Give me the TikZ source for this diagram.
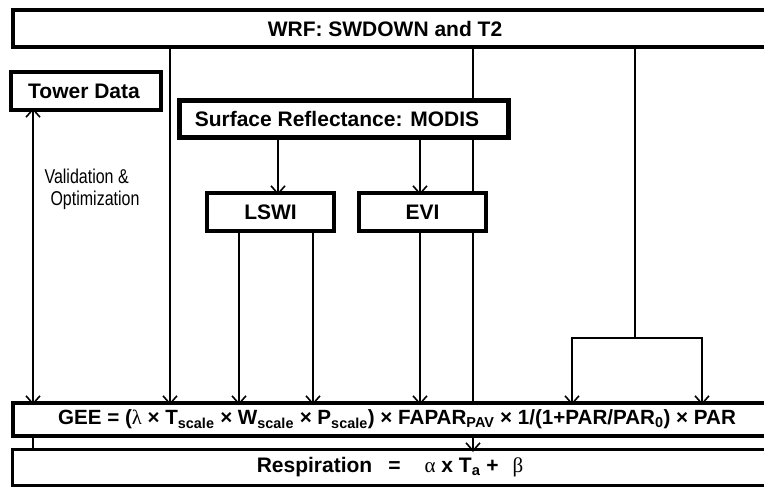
\documentclass[tikz,border=0pt]{standalone}
\usepackage{graphicx}
\usepackage{fontspec}
\setmainfont{Liberation Sans}
\newfontfamily\greekfont{Liberation Serif}
\usetikzlibrary{arrows.meta, positioning, calc, backgrounds}

\begin{document}
\begin{tikzpicture}[
    x=1pt, y=-1pt,
    box/.style={rectangle, draw, line width=4pt, fill=white, inner sep=0pt, font=\fontsize{21}{25}\selectfont\bfseries},
    openbox/.style={box, anchor=west, minimum width=770pt},
    arrow/.style={-{Straight Barb[length=8pt, width=14pt]}, line width=1.6pt, shorten >=-4pt},
    link/.style={line width=1.6pt}
]
    \useasboundingbox (0,0) rectangle (764,488);
    \clip (0,0) rectangle (764,488);

    % Boxes
    \node[openbox, minimum height=37pt] (wrf) at (11,28.5) {WRF: SWDOWN and T2\kern26pt};
    \node[box, minimum width=150pt, minimum height=38pt] (tower) at (86,91) {Tower Data\kern4pt};
    \node[box, line width=5pt, minimum width=329pt, minimum height=37pt] (modis) at (344,119) {Surface Reflectance: MODIS\kern14pt};
    \node[box, minimum width=127pt, minimum height=38pt] (lswi) at (270.5,212) {LSWI};
    \node[box, minimum width=127pt, minimum height=38pt, right=21pt of lswi] (evi) {EVI};
    \node[openbox, minimum height=33pt, font=\fontsize{20.6}{24}\selectfont\bfseries] (gee) at (11,419.5)
        {GEE = ({\greekfont\mdseries λ} × T\textsubscript{scale} × W\textsubscript{scale} × P\textsubscript{scale}) × FAPAR\textsubscript{PAV} × 1/(1+PAR/PAR\textsubscript{0}) × PAR\kern2pt};
    \node[openbox, line width=3pt, minimum height=36pt] (resp) at (10.5,467.5)
        {Respiration\hspace{16pt}=\hspace{24pt}{\greekfont\mdseries α} x T\textsubscript{a} +\hspace{14pt}{\greekfont\mdseries β}\kern14pt};
    \node[font=\fontsize{16}{22}\selectfont, align=left, anchor=west] (valid) at (41,189)
        {\scalebox{1}[1.25]{Validation \&}\\\hspace*{6pt}\scalebox{1}[1.25]{Optimization}};

    % Columns
    \coordinate (colV) at (33,0);
    \coordinate (colT) at (170,0);
    \coordinate (colW) at (239,0);
    \coordinate (colL) at (278,0);
    \coordinate (colP) at (313,0);
    \coordinate (colE) at (420,0);
    \coordinate (colR) at (473,0);
    \coordinate (colA) at (572,0);
    \coordinate (colB) at (702,0);
    \coordinate (split) at (635,338);

    % T2 line behind the boxes
    \begin{scope}[on background layer]
        \draw[link] (wrf.south -| colR) -- (gee.north -| colR);
    \end{scope}
    \draw[arrow] (gee.south -| colR) -- (resp.north -| colR);

    % Validation
    \draw[link, {Straight Barb[length=8pt, width=14pt]}-{Straight Barb[length=8pt, width=14pt]}, shorten <=-4pt, shorten >=-4pt] (tower.south -| colV) -- (gee.north -| colV);
    \draw[link] (gee.south -| colV) -- (resp.north -| colV);

    % Inputs to GEE
    \draw[arrow] (wrf.south -| colT) -- (gee.north -| colT);
    \draw[arrow] (modis.south -| colL) -- (lswi.north -| colL);
    \draw[arrow] (modis.south -| colE) -- (evi.north -| colE);
    \foreach \c/\src in {colW/lswi, colP/lswi, colE/evi}
        \draw[arrow] (\src.south -| \c) -- (gee.north -| \c);
    \draw[link] (wrf.south -| split) -- (split);
    \draw[arrow] (split) -| (gee.north -| colA);
    \draw[arrow] (split) -| (gee.north -| colB);
\end{tikzpicture}
\end{document}
